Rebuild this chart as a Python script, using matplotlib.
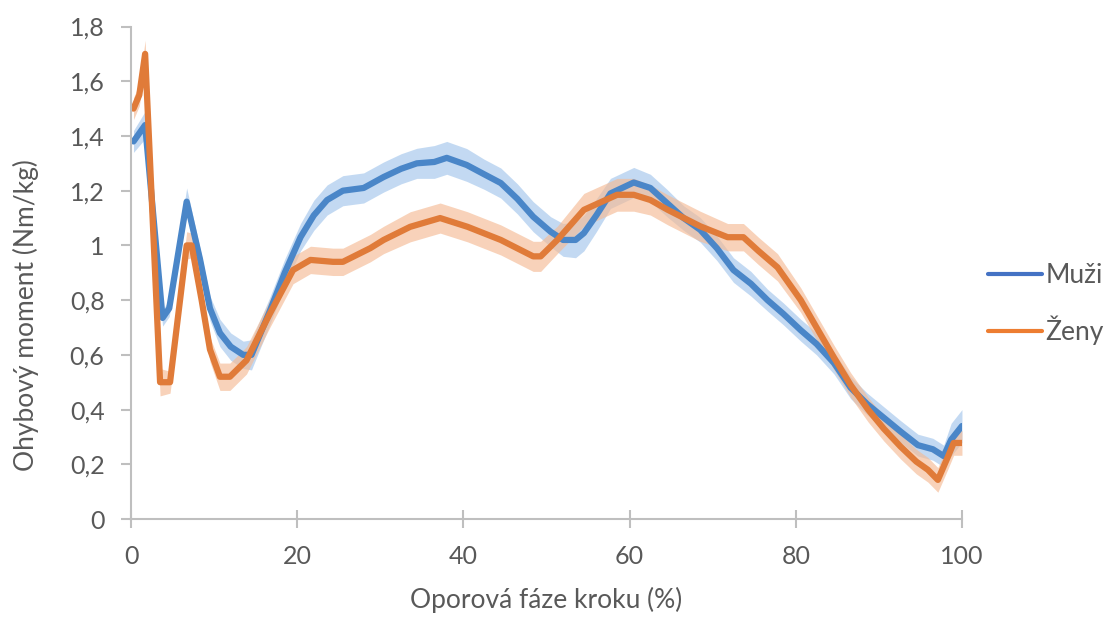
import numpy as np
import matplotlib.pyplot as plt
from matplotlib.lines import Line2D

# Muži - stred a polovina sirky pasu
x_muzi = [0.3, 1.7, 3.8, 4.6, 6.7, 8.3, 9.5, 10.7, 12.0, 13.5, 14.5, 16.7, 18.5, 20.4,
          22.0, 23.6, 25.5, 28.0, 30.4, 32.5, 34.4, 36.5, 38.0, 40.4, 42.5, 44.5, 46.5,
          48.4, 50.5, 52.0, 53.5, 54.5, 56.0, 57.7, 60.5, 62.5, 64.5, 66.5, 68.5, 70.5,
          72.5, 74.6, 76.6, 78.5, 80.6, 82.5, 84.6, 86.6, 88.6, 90.6, 92.6, 94.7, 96.5,
          97.8, 98.7, 100]
y_muzi = [1.38, 1.44, 0.735, 0.77, 1.16, 0.95, 0.77, 0.68, 0.63, 0.60, 0.60, 0.76, 0.90, 1.03,
          1.11, 1.166, 1.20, 1.21, 1.25, 1.28, 1.30, 1.305, 1.32, 1.294, 1.26, 1.228, 1.17,
          1.105, 1.05, 1.02, 1.02, 1.045, 1.11, 1.19, 1.23, 1.21, 1.155, 1.10, 1.057, 0.99,
          0.91, 0.86, 0.80, 0.75, 0.69, 0.64, 0.57, 0.48, 0.42, 0.37, 0.32, 0.27, 0.255,
          0.23, 0.29, 0.34]
sd_muzi = [0.04, 0.05, 0.03, 0.03, 0.05, 0.04, 0.045, 0.05, 0.05, 0.05, 0.055, 0.05, 0.05, 0.05,
           0.055, 0.055, 0.055, 0.055, 0.055, 0.055, 0.055, 0.06, 0.06, 0.06, 0.055, 0.055, 0.055,
           0.055, 0.055, 0.06, 0.065, 0.065, 0.06, 0.055, 0.055, 0.05, 0.05, 0.045, 0.045, 0.045,
           0.045, 0.045, 0.04, 0.04, 0.04, 0.04, 0.04, 0.04, 0.04, 0.04, 0.04, 0.04, 0.04,
           0.04, 0.06, 0.06]

# Ženy
x_zeny = [0.3, 1.0, 1.7, 3.5, 4.7, 6.7, 7.3, 8.5, 9.5, 10.7, 11.9, 13.9, 16.7, 19.5, 21.6,
          24.3, 25.5, 28.8, 30.4, 33.6, 37.2, 40.5, 44.5, 48.4, 49.3, 51.3, 54.5, 58.5, 60.5,
          62.5, 64.6, 68.5, 71.8, 73.7, 75.5, 77.8, 80.6, 82.5, 84.6, 86.6, 88.7, 90.6, 92.6,
          94.5, 95.9, 97.1, 98.3, 99.0, 100]
y_zeny = [1.50, 1.55, 1.70, 0.50, 0.50, 1.00, 1.00, 0.80, 0.62, 0.52, 0.52, 0.58, 0.75, 0.91, 0.947,
          0.94, 0.94, 0.99, 1.02, 1.068, 1.10, 1.068, 1.02, 0.96, 0.96, 1.02, 1.13, 1.185, 1.185,
          1.166, 1.13, 1.07, 1.03, 1.03, 0.98, 0.92, 0.80, 0.70, 0.59, 0.49, 0.40, 0.33, 0.265,
          0.21, 0.18, 0.143, 0.227, 0.278, 0.278]
sd_zeny = [0.04, 0.04, 0.05, 0.05, 0.04, 0.05, 0.045, 0.045, 0.045, 0.05, 0.05, 0.05, 0.05, 0.05, 0.05,
           0.05, 0.05, 0.05, 0.05, 0.055, 0.055, 0.055, 0.055, 0.055, 0.055, 0.05, 0.06, 0.06, 0.06,
           0.055, 0.055, 0.055, 0.05, 0.05, 0.05, 0.05, 0.045, 0.045, 0.045, 0.045, 0.045, 0.045, 0.045,
           0.045, 0.045, 0.045, 0.045, 0.045, 0.045]

y_ticks = [0, 0.2, 0.4, 0.6, 0.8, 1.0, 1.2, 1.4, 1.6, 1.8]
y_labels = ['0', '0,2', '0,4', '0,6', '0,8', '1', '1,2', '1,4', '1,6', '1,8']
x_ticks = [0, 20, 40, 60, 80, 100]

plt.rcParams['font.family'] = ['Lato', 'DejaVu Sans']
grey = '#595959'
c_blue = '#4a86c8'
c_orange = '#e07b39'

fig = plt.figure(figsize=(11.13, 6.17), dpi=100)
ax = fig.add_axes([0.1177, 0.1588, 0.7466, 0.7982])

ax.fill_between(x_muzi, np.array(y_muzi) - sd_muzi, np.array(y_muzi) + sd_muzi,
                color='#a3c6ec', alpha=0.65, lw=0)
ax.fill_between(x_zeny, np.array(y_zeny) - sd_zeny, np.array(y_zeny) + sd_zeny,
                color='#f5bb95', alpha=0.65, lw=0)
ax.plot(x_muzi, y_muzi, color=c_blue, lw=4.5, solid_capstyle='round', solid_joinstyle='round')
ax.plot(x_zeny, y_zeny, color=c_orange, lw=4.5, solid_capstyle='round', solid_joinstyle='round')

ax.set_xlim(0, 100)
ax.set_ylim(0, 1.8)
ax.set_xticks(x_ticks)
ax.set_yticks(y_ticks)
ax.set_yticklabels(y_labels)
for s in ['top', 'right']:
    ax.spines[s].set_visible(False)
for s in ['left', 'bottom']:
    ax.spines[s].set_color('#bfbfbf')
    ax.spines[s].set_linewidth(1.5)
ax.tick_params(axis='y', colors='#bfbfbf', labelcolor=grey, labelsize=18, length=7, width=1.5, pad=12)
ax.tick_params(axis='x', colors='#bfbfbf', labelcolor=grey, labelsize=18, length=13, width=1.5,
               direction='inout', pad=12)

ax.set_xlabel('Oporová fáze kroku (%)', fontsize=19, color=grey, labelpad=14)
ax.set_ylabel('Ohybový moment (Nm/kg)', fontsize=19, color=grey)
ax.yaxis.set_label_coords(-0.111, 0.414)

handles = [Line2D([], [], color='#4472c4', lw=3, solid_capstyle='round'),
           Line2D([], [], color='#ed7d31', lw=3, solid_capstyle='round')]
fig.legend(handles, ['Muži', 'Ženy'], loc='center left', bbox_to_anchor=(0.8877, 0.507),
           frameon=False, fontsize=19, handlelength=2.05, handletextpad=0.12,
           labelspacing=1.02, labelcolor=grey, borderpad=0, borderaxespad=0)

fig.savefig('out.png', dpi=100)
